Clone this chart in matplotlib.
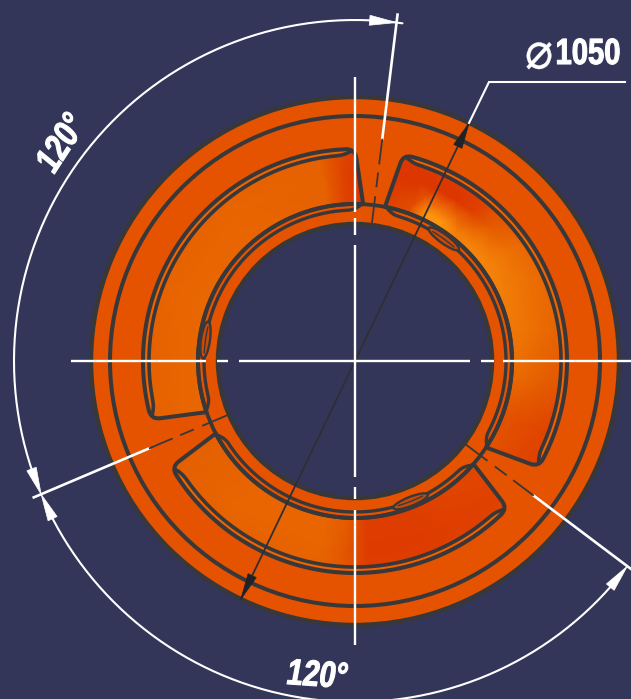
import numpy as np
import matplotlib
matplotlib.use("Agg")
import matplotlib.pyplot as plt
from matplotlib.colors import LinearSegmentedColormap
from matplotlib.path import Path
from matplotlib.patches import PathPatch, Polygon, Circle, Ellipse
from matplotlib.patheffects import AbstractPathEffect
from matplotlib.transforms import Affine2D

# --- drawing dimensions (px; centre of the part = 0,0)
R_OUTER, R_GROOVE, R_HOLE = 264, 245, 137
R_POCKET, R_LIP, R_RIB, R_RING = 212, 206, 157, 151
R_DIM = 341
DIM_ANGLES = [83, 203, 323]
DIA_ANGLE = 64.4
DIM_LABEL = "120°"
DIA_SYMBOL = "⌀"
DIA_VALUE = "1050"
# pocket corners: inner start, outer start, outer end, inner end (degrees)
POCKET_CORNERS = [(87, 90, 196, 199), (207.5, 210, 316, 319), (-33.4, -30, 76.8, 79)]
LENS_ANGLES = [54, 172, 291.6]
# shading of the pockets: angle stops and levels at four radii
HEAT_R = [140, 165, 190, 225]
P1_T = [84, 89, 94, 100, 130, 160, 202]
P1_H = [[-.9, -.9, -.6, .05, .1, .15, .15], [-.9, -.9, -.6, .05, .1, .15, .15],
        [-.9, -.9, -.6, .05, .1, .1, .1], [-.9, -.8, -.5, 0, .05, .05, .05]]
P2_T = [205, 230, 260, 267, 274, 290, 305, 322]
P2_H = [[0, .1, .1, -.1, -.75, -.75, -.6, -.5], [0, .1, .1, -.1, -.75, -.75, -.6, -.5],
        [0, .1, .1, -.2, -.8, -.8, -.7, -.6], [0, .05, .05, -.2, -.7, -.7, -.6, -.6]]
P3_T = [-36, -20, -5, 10, 25, 35, 45, 52, 58, 64, 70, 82]
P3_H = [[-.3, -.3, .1, .3, .5, .7, .7, .7, .9, 1, -.2, -.8],
        [-.3, -.3, .2, .4, .5, .6, .6, .5, .9, .9, -.4, -.8],
        [-.6, -.5, 0, .2, .3, .3, -.1, -.7, -.9, -.9, -.9, -.9],
        [-.8, -.7, -.3, 0, 0, -.1, -.4, -.7, -.8, -.8, -.8, -.9]]

BG, RING, LINE, WHITE = "#333659", "#E55200", "#38383A", "#FFFFFF"
LIP_GLOW = "#F06400"
heat_cmap = LinearSegmentedColormap.from_list("heat", ["#DC3200", "#E55F00", "#FF9A10"])

CX, CY = 355, 361
W, H = 631, 699
fig = plt.figure(figsize=(W / 100, H / 100), dpi=100, facecolor=BG)
ax = fig.add_axes([0, 0, 1, 1])
ax.set_xlim(-CX, W - CX)
ax.set_ylim(CY - H, CY)
ax.set_aspect("equal")
ax.axis("off")


class Stretch(AbstractPathEffect):
    """Scale a text's outlines along and across its baseline, about its anchor; thicken slightly."""

    def __init__(self, anchor, sx=1.0, sy=1.0, rot=0.0, shear=0.0, bold=0.0):
        super().__init__()
        self.anchor, self.sx, self.sy, self.rot, self.shear, self.bold = anchor, sx, sy, rot, shear, bold

    def draw_path(self, renderer, gc, tpath, affine, rgbFace=None):
        px, py = ax.transData.transform(self.anchor)
        extra = (Affine2D().translate(-px, -py).rotate_deg(-self.rot)
                 .skew_deg(self.shear, 0).scale(self.sx, self.sy)
                 .rotate_deg(self.rot).translate(px, py))
        gc0 = renderer.new_gc()
        gc0.copy_properties(gc)
        gc0.set_linewidth(self.bold)
        gc0.set_foreground(WHITE)
        renderer.draw_path(gc0, tpath, affine + extra, rgbFace)
        gc0.restore()


def pol(r, a):
    a = np.radians(a)
    return np.array([r * np.cos(a), r * np.sin(a)])


def arc(r, a0, a1, **kw):
    t = np.radians(np.linspace(a0, a1, 200))
    ax.plot(r * np.cos(t), r * np.sin(t), solid_capstyle="round", **kw)


def tapered_arc(r_mid, r_end, a0, a1, span, **kw):
    t = np.linspace(a0, a1, 400)
    f = np.clip(1 - np.minimum(t - a0, a1 - t) / span, 0, 1)
    r = r_mid + (r_end - r_mid) * f ** 2
    ax.plot(r * np.cos(np.radians(t)), r * np.sin(np.radians(t)), solid_capstyle="round", **kw)


def pocket_path(a_i0, a_o0, a_o1, a_i1, round_px=9):
    i0, o0, o1, i1 = pol(R_RIB, a_i0), pol(R_POCKET, a_o0), pol(R_POCKET, a_o1), pol(R_RIB, a_i1)
    da = np.degrees(round_px / R_POCKET)
    u0 = (i0 - o0) / np.linalg.norm(i0 - o0)
    u1 = (i1 - o1) / np.linalg.norm(i1 - o1)
    verts, codes = [i0], [Path.MOVETO]
    verts.append(o0 + u0 * round_px); codes.append(Path.LINETO)
    verts.append(o0); codes.append(Path.CURVE3)
    verts.append(pol(R_POCKET, a_o0 + da)); codes.append(Path.CURVE3)
    for a in np.linspace(a_o0 + da, a_o1 - da, 120)[1:]:
        verts.append(pol(R_POCKET, a)); codes.append(Path.LINETO)
    verts.append(o1); codes.append(Path.CURVE3)
    verts.append(o1 + u1 * round_px); codes.append(Path.CURVE3)
    for a in np.linspace(a_i1, a_i0, 120):
        verts.append(pol(R_RIB, a)); codes.append(Path.LINETO)
    verts.append(i0); codes.append(Path.CLOSEPOLY)
    return Path(np.array(verts), codes)


def arrow(tip, direction_deg, length=27, width=9, color=WHITE, z=8):
    d = np.array([np.cos(np.radians(direction_deg)), np.sin(np.radians(direction_deg))])
    n = np.array([-d[1], d[0]])
    tip = np.asarray(tip, float)
    ax.add_patch(Polygon([tip, tip - d * length + n * width / 2, tip - d * length - n * width / 2],
                         closed=True, fc=color, ec=color, lw=0.5, zorder=z))


# part body
ax.add_patch(Circle((0, 0), R_OUTER, fc=RING, ec=LINE, lw=3.2, zorder=1))
ax.add_patch(Circle((0, 0), R_HOLE, fc=BG, ec=LINE, lw=3.2, zorder=3))
ax.add_patch(Circle((0, 0), R_GROOVE, fc="none", ec=LINE, lw=2.9, zorder=4))
ax.add_patch(Circle((0, 0), R_RIB, fc="none", ec=LINE, lw=2.7, zorder=4))

# pockets with shaded fill
for corners, thetas, heat in zip(POCKET_CORNERS, [P1_T, P2_T, P3_T], [P1_H, P2_H, P3_H]):
    T, Rr = np.meshgrid(np.radians(thetas), HEAT_R)
    path = pocket_path(*corners)
    mesh = ax.pcolormesh(Rr * np.cos(T), Rr * np.sin(T), np.array(heat), cmap=heat_cmap,
                         vmin=-1, vmax=1, shading="gouraud", zorder=2)
    ax.add_patch(PathPatch(path, fc="none", ec=LINE, lw=2.9, joinstyle="round", zorder=4))
    mesh.set_clip_path(PathPatch(path, transform=ax.transData))
    a_i0, a_o0, a_o1, a_i1 = corners
    arc((R_LIP + R_POCKET) / 2, a_o0 + 2, a_o1 - 2, color=LIP_GLOW, lw=1.4, zorder=3)
    tapered_arc(R_LIP, R_POCKET - 2, a_o0 + 1, a_o1 - 1, 4, color=LINE, lw=2.6, zorder=4)
    tapered_arc(R_RING, R_RIB, a_i0 + .5, a_i1 - .5, 5, color=LINE, lw=2.4, zorder=4)

# small lens-shaped bosses on the inner ring
for a in LENS_ANGLES:
    ax.add_patch(Ellipse(pol(151, a), 9, 37, angle=a, fc="#C94A08", ec=LINE, lw=1.7, zorder=5))
    arc(151, a - 5, a + 5, color=LINE, lw=1.0, zorder=5)

# centre lines
for (a, b) in [(-284, -149), (-138, -127), (-116, 115), (126, 139), (148, 276)]:
    ax.plot([a, b], [0, 0], color=WHITE, lw=1.7, solid_capstyle="butt", zorder=7)
for (a, b) in [(-284, -149), (-138, -126), (-116, 116), (126, 143), (149, 284)]:
    ax.plot([0, 0], [a, b], color=WHITE, lw=1.7, solid_capstyle="butt", zorder=7)

# extension lines: white outside, dashed dark inside
for ang in DIM_ANGLES:
    p0, p1 = pol(224, ang), pol(349, ang)
    ax.plot([p0[0], p1[0]], [p0[1], p1[1]], color=WHITE, lw=1.9, zorder=7)
    for r0, r1 in [(199, 223), (176, 189), (138, 165)]:
        q0, q1 = pol(r0, ang), pol(r1, ang)
        ax.plot([q0[0], q1[0]], [q0[1], q1[1]], color=LINE, lw=1.3, zorder=7)

# angular dimension arcs
arc(R_DIM, DIM_ANGLES[0] - 1, DIM_ANGLES[1] - 3, color=WHITE, lw=1.5, zorder=7)
arc(R_DIM, DIM_ANGLES[1] + 3, DIM_ANGLES[2] - 3, color=WHITE, lw=1.5, zorder=7)
for ang, sense in [(DIM_ANGLES[0], -1), (DIM_ANGLES[1], 1), (DIM_ANGLES[1], -1), (DIM_ANGLES[2], 1)]:
    arrow(pol(R_DIM, ang), ang + sense * 90 - sense * 2.2, length=27, width=10)

# diameter dimension
top, bottom = pol(R_OUTER, DIA_ANGLE), pol(R_OUTER, DIA_ANGLE + 180)
ax.plot([top[0], bottom[0]], [top[1], bottom[1]], color="#2F2F33", lw=1.3, zorder=6)
arrow(top, DIA_ANGLE, length=26, width=9, color="#1F2226", z=7)
arrow(bottom, DIA_ANGLE + 180, length=26, width=9, color="#1F2226", z=7)
elbow_x, elbow_y, end_x = 489 - CX, CY - 82, 625 - CX
ax.plot([top[0], elbow_x, end_x], [top[1], elbow_y, elbow_y], color=WHITE, lw=1.5,
        solid_joinstyle="miter", zorder=8)


# text: real text, condensed by stretching across the baseline
def label(txt, px, py, size, rot=0, sy=1.0, sx=1.0, shear=0.0, bold=0.0, **kw):
    anchor = (px - CX, CY - py)
    t = ax.text(*anchor, txt, color=WHITE, fontsize=size, rotation=rot, ha="center", va="center",
                rotation_mode="anchor", zorder=9, **kw)
    t.set_path_effects([Stretch(anchor, sx=sx, sy=sy, rot=rot, shear=shear, bold=bold)])
    return t


label(DIA_VALUE, 588, 54, 21, sy=1.25, bold=0.8, family="Liberation Sans", fontweight="bold")
label(DIA_SYMBOL, 539, 54, 28, sx=1.2, sy=1.3, bold=0.3, family="DejaVu Sans")
label(DIM_LABEL, 62, 144, 21, rot=57, sy=1.25, bold=0.8, family="Liberation Sans", fontweight="bold",
      shear=8)
label(DIM_LABEL, 317, 676, 21, rot=-4, sy=1.25, bold=0.8, family="Liberation Sans", fontweight="bold",
      shear=8)

fig.savefig("out.png", dpi=100, facecolor=BG)
